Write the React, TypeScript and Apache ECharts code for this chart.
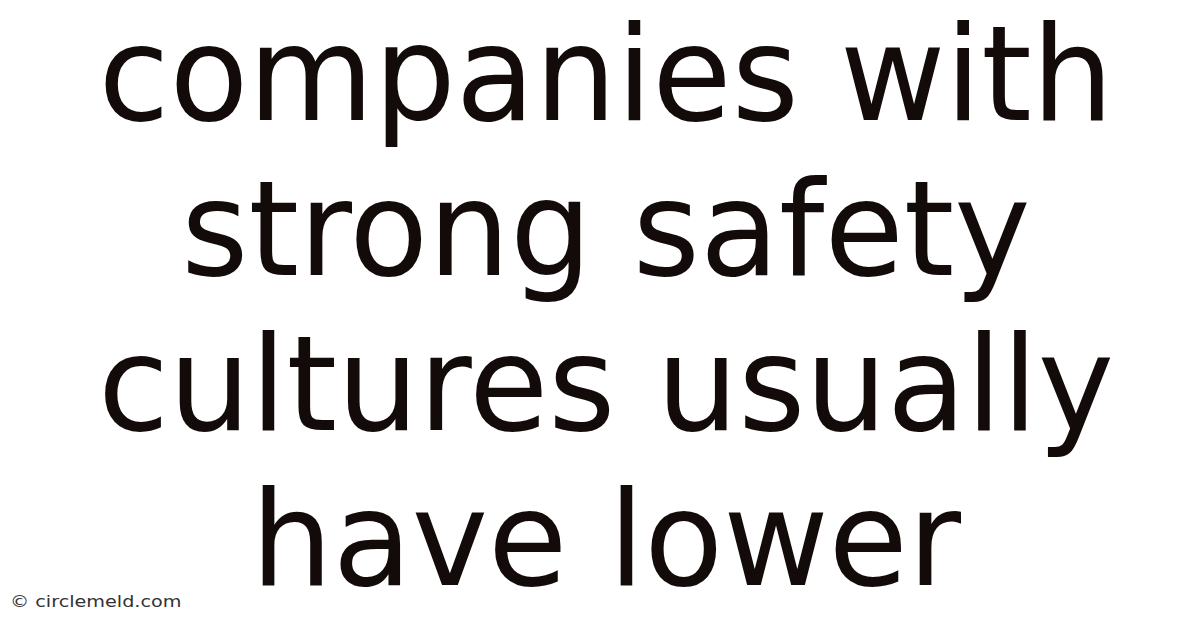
import React, { useEffect, useRef } from 'react';
import * as echarts from 'echarts';

const titleLines = ['companies with', 'strong safety', 'cultures usually', 'have lower'];
const watermark = '© circlemeld.com';

export default function App() {
  const chartRef = useRef<HTMLDivElement>(null);

  useEffect(() => {
    document.body.style.margin = '0';
    if (!chartRef.current) return;
    const chart = echarts.init(chartRef.current, null, { renderer: 'svg' });

    // middle of the first line, and the distance between lines
    const firstMiddle = 74;
    const step = 155;

    const option: echarts.EChartsOption = {
      animation: false,
      backgroundColor: '#ffffff',
      graphic: [
        ...titleLines.map((line, i) => ({
          type: 'text' as const,
          x: 606,
          y: firstMiddle + i * step,
          scaleX: 0.977,
          style: {
            text: line,
            fill: '#130a0a',
            font: '132px "DejaVu Sans"',
            align: 'center' as const,
            verticalAlign: 'middle' as const,
          },
        })),
        {
          type: 'text',
          x: 10,
          y: 602,
          scaleX: 1.28,
          style: {
            text: watermark,
            fill: '#333333',
            font: '15px "DejaVu Sans"',
            align: 'left',
            verticalAlign: 'middle',
          },
        },
      ],
    };
    chart.setOption(option);

    return () => {
      chart.dispose();
    };
  }, []);

  return (
    <div
      ref={chartRef}
      style={{ position: 'absolute', left: 0, top: 0, width: '1200px', height: '628px' }}
    />
  );
}
